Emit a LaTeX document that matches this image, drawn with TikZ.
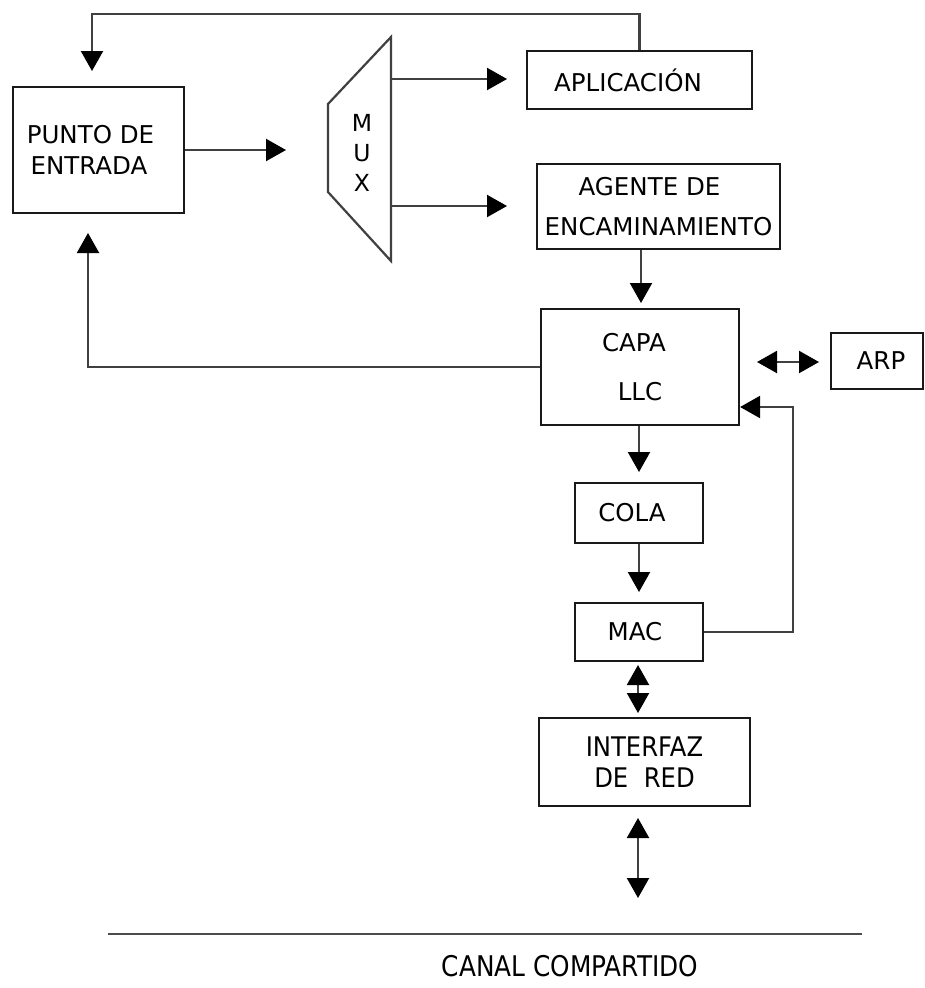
\documentclass[tikz,border=0pt]{standalone}
\usepackage{fontspec}
\setmainfont{DejaVu Sans}
\newfontfamily\narrowfont[FakeStretch=0.9]{DejaVu Sans}
\newfontfamily\canalfont[FakeStretch=0.87]{DejaVu Sans}
\usetikzlibrary{arrows.meta}
\newcommand\padr[1]{\rule{#1}{0pt}}
\begin{document}
\begin{tikzpicture}[x=1pt,y=-1pt,
  box/.style={draw=black!90, line width=2.2pt, inner sep=0pt, align=center, font=\fontsize{24.5}{29}\selectfont},
  conn/.style={draw=black!75, line width=2.2pt},
  tipb/.tip={Triangle[length=20pt,width=22pt,color=black]},
  arr/.style={conn, -tipb},
  darr/.style={conn, tipb-tipb},
  lbl/.style={inner sep=0pt, align=center, font=\fontsize{23.5}{28}\selectfont}
]
\useasboundingbox (0,0) rectangle (925,988);

% boxes
\node[box, minimum width=171pt, minimum height=126pt] (pe) at (98.5,150) {PUNTO DE\padr{16pt}\\[2pt]ENTRADA\padr{19pt}};
\node[box, minimum width=225pt, minimum height=58pt] (app) at (639.5,80) {APLICACIÓN\padr{23pt}};
\node[box, minimum width=243pt, minimum height=85pt] (agent) at (658.5,206.5) {AGENTE DE\padr{18pt}\\[11pt]ENCAMINAMIENTO};
\node[box, minimum width=198pt, minimum height=116pt] (capa) at (640,367) {CAPA\padr{12pt}\\[20pt]LLC};
\node[box, minimum width=92pt, minimum height=56pt] (arp) at (877,361) {\padr{8pt}ARP};
\node[box, minimum width=128pt, minimum height=60pt] (cola) at (639,513) {COLA\padr{14pt}};
\node[box, minimum width=128pt, minimum height=58pt] (mac) at (639,632) {MAC\padr{8pt}};
\node[box, minimum width=211pt, minimum height=88pt, font=\narrowfont\fontsize{27}{31}\selectfont] (iface) at (644.5,762) {INTERFAZ\\DE\ \ RED};

% MUX
\coordinate (mux1) at (328,104);
\coordinate (mux2) at (391,37);
\coordinate (mux3) at (391,261);
\coordinate (mux4) at (328,192);
\draw[line width=2.2pt, black!75, line join=miter] (mux1) -- (mux2) -- (mux3) -- (mux4) -- cycle;
\node[lbl] (muxlbl) at (362,153) {M\\[2pt]U\\[2pt]X};

% connectors
\coordinate (fbtop) at (92,14);
\coordinate (pein) at (92,71);
\draw[arr] (app.north) |- (fbtop) -- (pein);

\coordinate (muxin) at (286,150);
\draw[arr] (pe.east) -- (muxin);

\coordinate (muxo1) at (391,79);
\coordinate (appin) at (507,79);
\draw[arr] (muxo1) -- (appin);
\coordinate (muxo2) at (391,206);
\coordinate (agin) at (507,206);
\draw[arr] (muxo2) -- (agin);

\coordinate (capin) at (641,303);
\draw[arr] (agent.south -| capin) -- (capin);

\coordinate (peup) at (88,233);
\draw[arr] (capa.west) -| (peup);

\coordinate (arpl) at (757,362);
\coordinate (arpr) at (819,362);
\draw[darr] (arpl) -- (arpr);

\coordinate (colain) at (639,472);
\draw[arr] (capa.south -| colain) -- (colain);
\coordinate (macin) at (639,592);
\draw[arr] (cola.south) -- (macin);

\coordinate (fbr) at (793,407);
\draw[arr] (mac.east) -| (fbr) -- (capa.east |- fbr);

\coordinate (m1) at (638,665);
\coordinate (m2) at (638,713);
\draw[darr] (m1) -- (m2);
\coordinate (i1) at (638,818);
\coordinate (i2) at (638,898);
\draw[darr] (i1) -- (i2);

% channel
\coordinate (chl) at (108,934);
\coordinate (chr) at (862,934);
\draw[line width=2.8pt, black!70] (chl) -- (chr);
\node[inner sep=0pt, font=\canalfont\fontsize{28.5}{32}\selectfont] (canal) at (570,966) {CANAL COMPARTIDO};
\end{tikzpicture}
\end{document}
